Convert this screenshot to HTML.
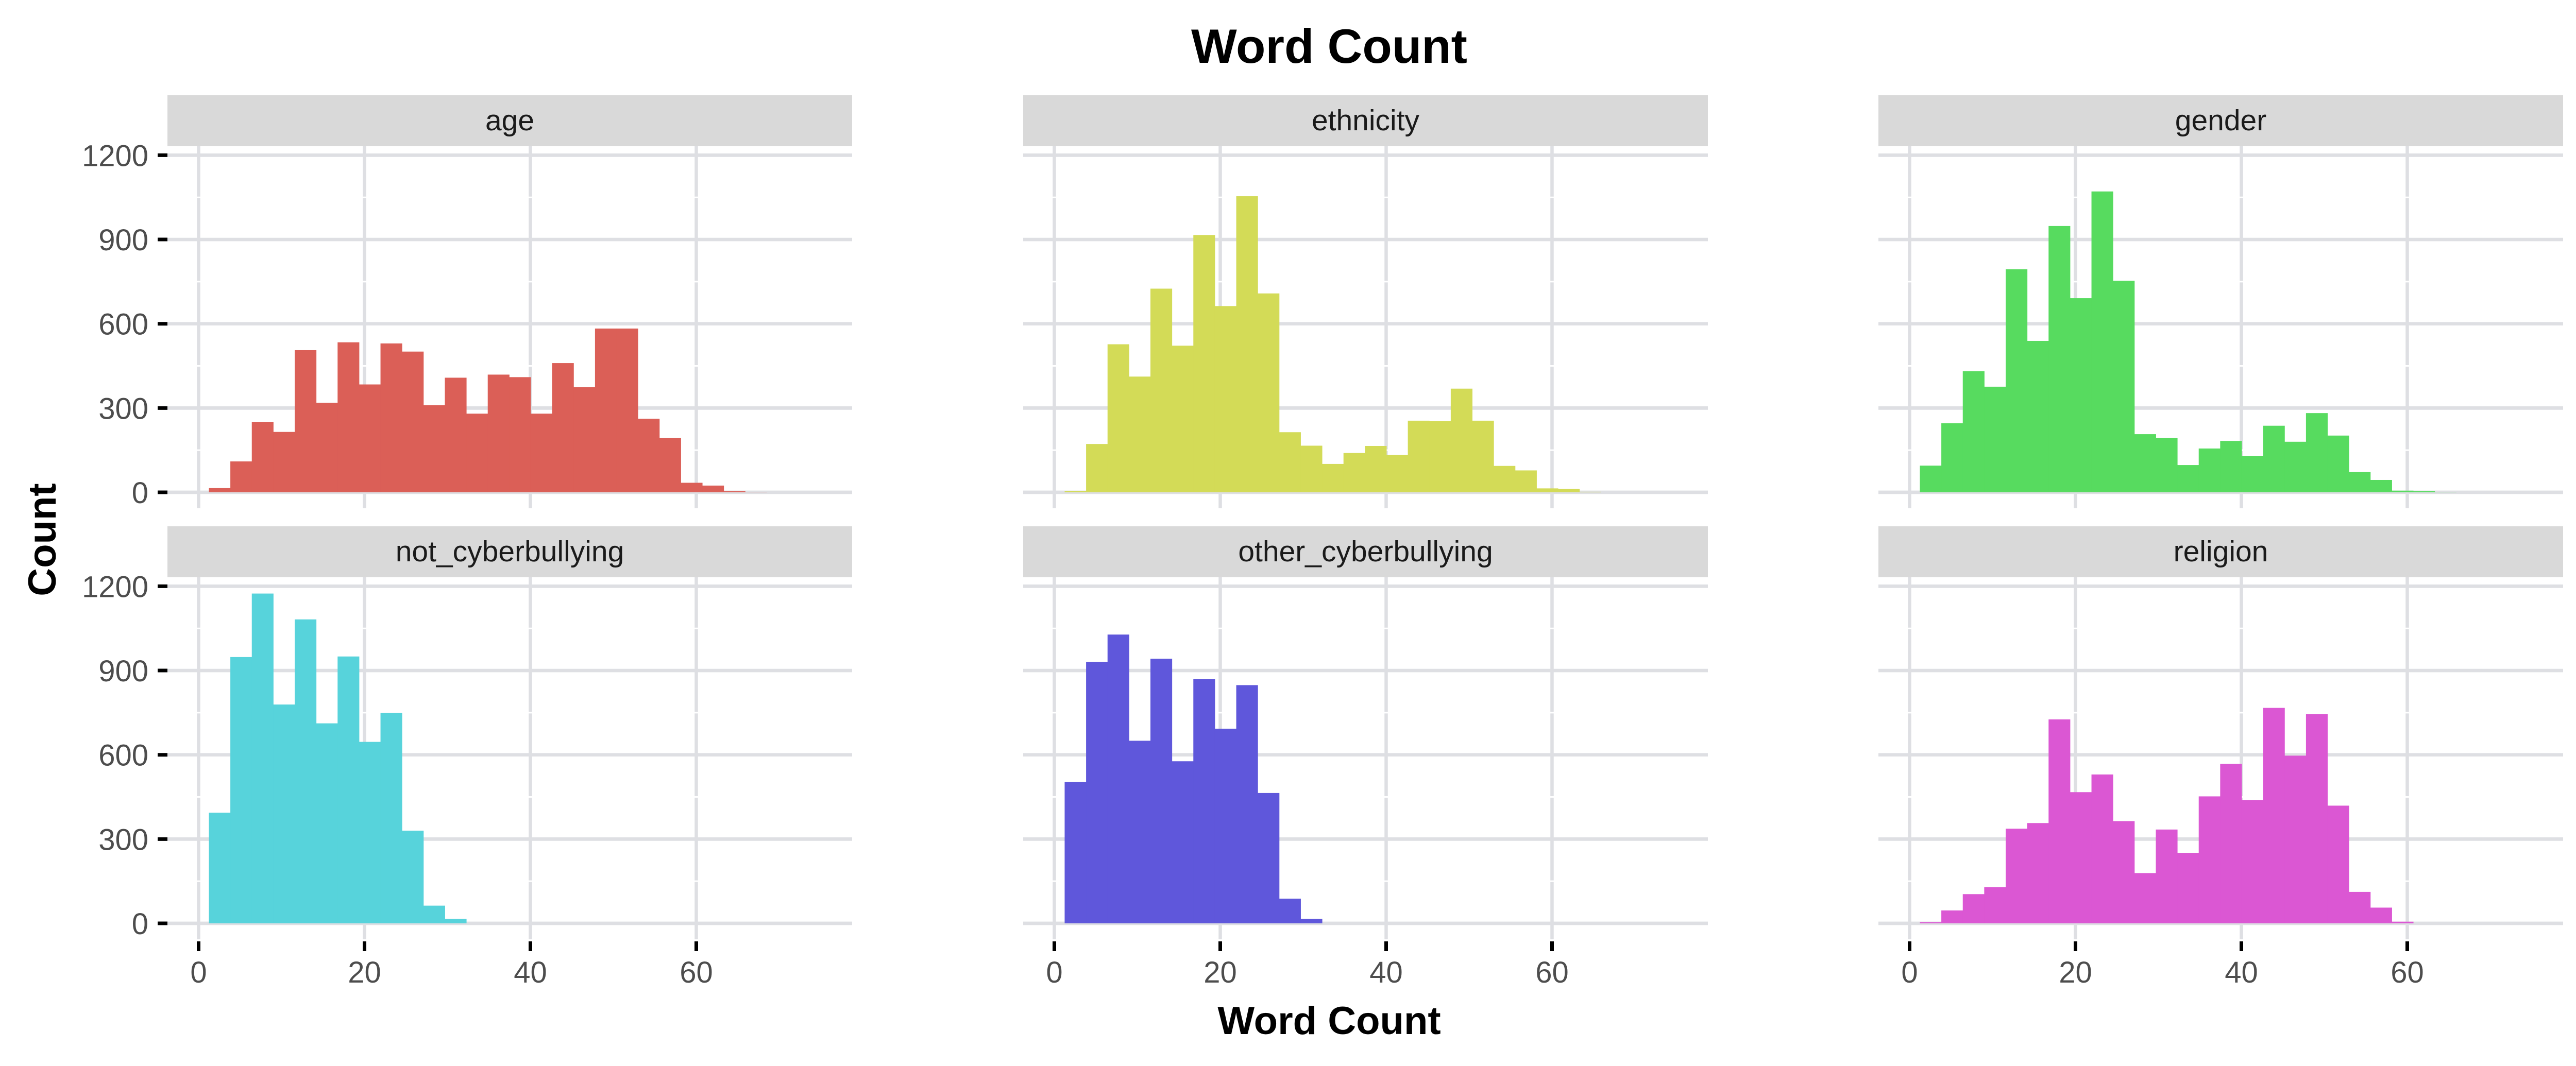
<!DOCTYPE html>
<html><head><meta charset="utf-8"><style>
html,body{margin:0;padding:0;background:#fff;}
svg{display:block;font-family:"Liberation Sans",sans-serif;}
</style></head><body>
<svg id="chart" width="5024" height="2070" viewBox="0 0 5024 2070" xmlns="http://www.w3.org/2000/svg">
<rect width="5024" height="2070" fill="#fff"/>
<text x="2580" y="122" font-size="94" font-weight="bold" text-anchor="middle" fill="#000">Word Count</text>
<text x="2580" y="2008" font-size="76" font-weight="bold" text-anchor="middle" fill="#000">Word Count</text>
<text x="0" y="0" font-size="76" font-weight="bold" text-anchor="middle" fill="#000" transform="translate(108,1048) rotate(-90)">Count</text>
<g id="panels"></g>
</svg>
<script>
const categories = ["age","ethnicity","gender","not_cyberbullying","other_cyberbullying","religion"];
const ageCounts = [15,110,251,215,506,319,534,384,530,501,310,408,280,419,410,280,460,374,583,583,262,193,34,24,4,1,0,0,0,0];
const ethnicityCounts = [5,172,527,412,725,522,916,663,1054,708,214,166,101,140,165,133,255,253,369,255,94,78,14,12,2,0,0,0,0,0];
const genderCounts = [95,246,431,376,794,539,948,691,1071,753,207,193,97,156,183,130,237,180,282,202,72,44,6,4,1,0,0,0,0,0];
const notCyberCounts = [394,948,1174,779,1082,712,950,646,749,330,63,16,0,0,0,0,0,0,0,0,0,0,0,0,0,0,0,0,0,0];
const otherCyberCounts = [503,931,1028,650,942,577,869,693,848,464,88,16,0,0,0,0,0,0,0,0,0,0,0,0,0,0,0,0,0,0];
const religionCounts = [4,46,104,129,337,357,726,467,530,364,179,334,251,452,568,439,767,597,745,419,112,56,6,0,0,0,0,0,0,0];
const colors = ["#db5f57","#d3db57","#57db5f","#57d3db","#5f57db","#db57d3"];
const yTicks = [0,300,600,900,1200];
const yMinor = [150,450,750,1050];
const xTicks = [0,20,40,60];
const binStart = 1.24;
const binWidth = 2.586;

const allCounts = [ageCounts,ethnicityCounts,genderCounts,notCyberCounts,otherCyberCounts,religionCounts];
const NS = "http://www.w3.org/2000/svg";
const root = document.getElementById("panels");
const panelLefts = [325,1986,3646];
const panelW = 1329;
const rows = [{stripTop:185,plotTop:284,plotBot:987,zeroY:956},{stripTop:1022,plotTop:1121,plotBot:1824,zeroY:1793}];
const yPerCount = 654.6/1200;
const xPerUnit = 16.1;

function mk(tag, attrs, parent){
  const e = document.createElementNS(NS, tag);
  for (const k in attrs) e.setAttribute(k, attrs[k]);
  parent.appendChild(e);
  return e;
}

categories.forEach((cat, i) => {
  const col = i % 3, row = Math.floor(i / 3);
  const L = panelLefts[col], R = L + panelW, r = rows[row];
  const xs = v => L + 60.5 + v * xPerUnit;
  const ys = v => r.zeroY - v * yPerCount;
  const g = mk("g", {}, root);
  
  
  const strip = mk("rect", {x:L, y:r.stripTop, width:panelW, height:r.plotTop - r.stripTop, fill:"#d9d9d9"}, g);
  
  
  const st = mk("text", {x:(L+R)/2, y:r.stripTop + 68, "font-size":57, "text-anchor":"middle", fill:"#1a1a1a"}, g);
  st.textContent = cat;
  
  
  xTicks.forEach(t => {
    const l = mk("line", {x1:xs(t), x2:xs(t), y1:r.plotTop, y2:r.plotBot, stroke:"#dedfe3", "stroke-width":6.5}, g);
    
    
  });
  yMinor.forEach(t => {
    const l = mk("line", {x1:L, x2:R, y1:ys(t), y2:ys(t), stroke:"#fff", "stroke-width":3}, g);
    
    
  });
  yTicks.forEach(t => {
    const l = mk("line", {x1:L, x2:R, y1:ys(t), y2:ys(t), stroke:"#dedfe3", "stroke-width":6.7}, g);
    
    
  });
  allCounts[i].forEach((c, b) => {
    if (c <= 0) return;
    const x0 = xs(binStart + b * binWidth), x1 = xs(binStart + (b + 1) * binWidth);
    const bar = mk("rect", {x:x0, y:ys(c), width:x1 - x0 + 0.5, height:r.zeroY - ys(c), fill:colors[i]}, g);
    
    
  });
  if (col === 0) {
    yTicks.forEach(t => {
      const tk = mk("line", {x1:306, x2:325, y1:ys(t), y2:ys(t), stroke:"#000", "stroke-width":7}, g);
      
      
      const tx = mk("text", {x:288, y:ys(t) + 21, "font-size":58, "text-anchor":"end", fill:"#4d4d4d"}, g);
      tx.textContent = t;
      
      
    });
  }
  if (row === 1) {
    xTicks.forEach(t => {
      const tk = mk("line", {x1:xs(t), x2:xs(t), y1:1828, y2:1847, stroke:"#000", "stroke-width":7}, g);
      
      
      const tx = mk("text", {x:xs(t), y:1908, "font-size":58, "text-anchor":"middle", fill:"#4d4d4d"}, g);
      tx.textContent = t;
      
      
    });
  }
});
</script>
</body></html>
